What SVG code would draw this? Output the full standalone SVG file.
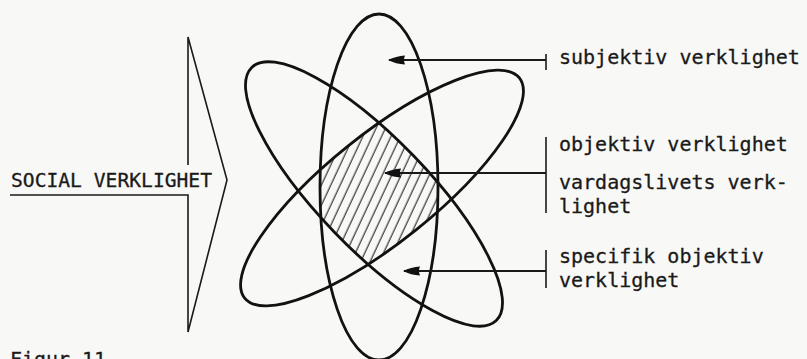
<svg xmlns="http://www.w3.org/2000/svg" width="807" height="359" viewBox="0 0 807 359">
  <style>
    .ell { fill: none; stroke: #121212; stroke-width: 2.8; }
    .ln { fill: none; stroke: #1a1a1a; stroke-width: 1.6; }
    .txt { font-family: "DejaVu Sans Mono", "Liberation Mono", monospace; font-size: 20px; fill: #1a1a1a; stroke: #1a1a1a; stroke-width: 0.3; }
    .conn { fill: none; stroke: #1a1a1a; stroke-width: 1.8; marker-end: url(#head); }
  </style>
  <defs>
    <marker id="head" markerUnits="userSpaceOnUse" viewBox="0 0 17 10" refX="16" refY="5" markerWidth="17" markerHeight="10" orient="auto">
      <path d="M0,0.5 Q9,1 17,5 Q9,9 0,9.5 Q2,5 0,0.5 Z" fill="#111"/>
    </marker>
    <pattern id="hatch" patternUnits="userSpaceOnUse" width="8.5" height="10" patternTransform="rotate(25)">
      <line x1="4" y1="-1" x2="4" y2="11" stroke="#222" stroke-width="1.1"/>
    </pattern>
    <clipPath id="cV"><ellipse cx="379" cy="187" rx="59" ry="173"/></clipPath>
    <clipPath id="cB"><ellipse cx="0" cy="0" rx="176" ry="55" transform="translate(374,194) rotate(46)"/></clipPath>
    <clipPath id="cF"><ellipse cx="0" cy="0" rx="176" ry="54" transform="translate(382,188) rotate(-38.7)"/></clipPath>
  </defs>
  <rect x="0" y="0" width="807" height="359" fill="#f8f8f6"/>

  <g id="social-verklighet">
    <polyline class="ln" points="188,165 188,37 227,180 188,332 188,195 10,195"/>
    <text class="txt" x="11" y="187" textLength="201" lengthAdjust="spacingAndGlyphs" font-size="21">SOCIAL VERKLIGHET</text>
  </g>

  <g id="hatched-core">
    <g clip-path="url(#cV)">
      <g clip-path="url(#cB)">
        <rect x="300" y="100" width="160" height="190" fill="url(#hatch)" clip-path="url(#cF)"/>
      </g>
    </g>
  </g>

  <g id="ellipse-vertical">
    <ellipse class="ell" cx="379" cy="187" rx="59" ry="173"/>
  </g>
  <g id="ellipse-falling">
    <ellipse class="ell" cx="0" cy="0" rx="176" ry="55" transform="translate(374,194) rotate(46)"/>
  </g>
  <g id="ellipse-rising">
    <ellipse class="ell" cx="0" cy="0" rx="176" ry="54" transform="translate(382,188) rotate(-38.7)"/>
  </g>

  <g id="label-subjektiv">
    <line class="ln" x1="546" y1="54" x2="546" y2="70"/>
    <text class="txt" x="559" y="64">subjektiv verklighet</text>
  </g>
  <g id="label-objektiv">
    <line class="ln" x1="546" y1="137" x2="546" y2="213"/>
    <text class="txt" x="559" y="151">objektiv verklighet</text>
    <text class="txt" x="559" y="189">vardagslivets verk-</text>
    <text class="txt" x="559" y="213">lighet</text>
  </g>
  <g id="label-specifik">
    <line class="ln" x1="546" y1="250" x2="546" y2="288"/>
    <text class="txt" x="559" y="263">specifik objektiv</text>
    <text class="txt" x="559" y="287">verklighet</text>
  </g>

  <g id="caption">
    <text class="txt" x="10" y="366" font-size="24" textLength="96" lengthAdjust="spacingAndGlyphs">Figur 11</text>
  </g>

  <g id="connectors">
    <line class="conn" x1="546" y1="60" x2="389" y2="60"/>
    <line class="conn" x1="546" y1="173" x2="385" y2="173"/>
    <line class="conn" x1="546" y1="271" x2="404" y2="271"/>
  </g>
</svg>
